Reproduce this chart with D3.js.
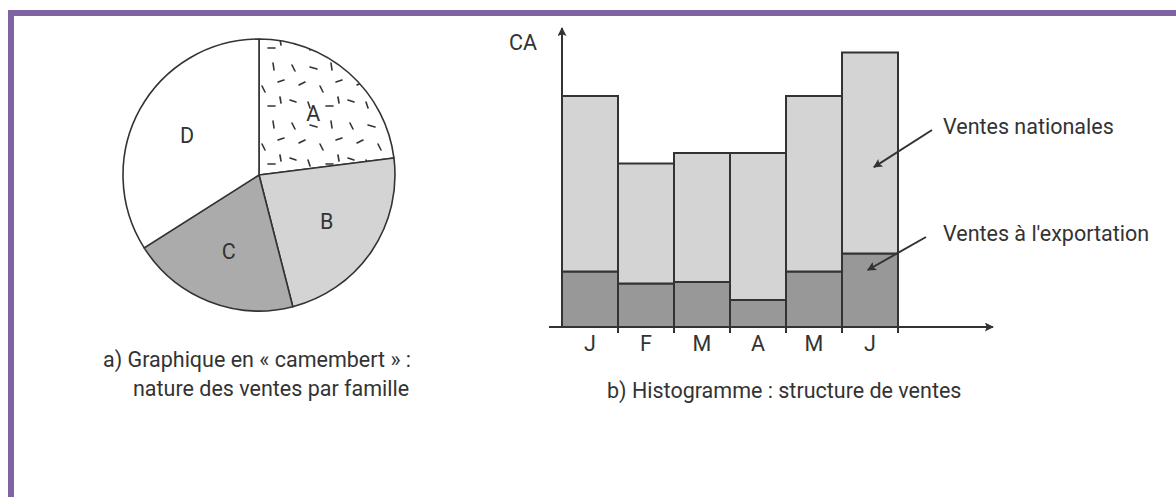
<!DOCTYPE html>
<html>
<head>
<meta charset="utf-8">
<script src="https://cdn.jsdelivr.net/npm/d3@7"></script>
<style>
  body { margin: 0; background: #fff; }
  text { font-family: Roboto, "Noto Sans", sans-serif; fill: #333; }
</style>
</head>
<body>
<div id="chart"></div>
<script>
// pie : nature des ventes par famille (parts en %)
const families = ["A", "B", "C", "D"];
const familyShares = [23, 23, 20, 34];

// histogramme : CA par mois
const months = ["J", "F", "M", "A", "M", "J"];
const exportSales = [18.5, 14.5, 15, 9, 18.5, 24.5];
const nationalSales = [58.5, 40, 43, 49, 58.5, 67];
const seriesLabels = ["Ventes nationales", "Ventes à l'exportation"];

const W = 1176, H = 497;
const fs = "21.5px";

const svg = d3.select("#chart").append("svg")
    .attr("width", W)
    .attr("height", H);

const defs = svg.append("defs");

// arrow heads
defs.append("marker")
    .attr("id", "axisArrow")
    .attr("viewBox", "0 0 10 10")
    .attr("refX", 9).attr("refY", 5)
    .attr("markerWidth", 11).attr("markerHeight", 9)
    .attr("markerUnits", "userSpaceOnUse")
    .attr("orient", "auto")
    .append("path").attr("d", "M0,0 L10,5 L0,10 L2,5 Z").attr("fill", "#333");

defs.append("marker")
    .attr("id", "noteArrow")
    .attr("viewBox", "0 0 10 10")
    .attr("refX", 9).attr("refY", 5)
    .attr("markerWidth", 12).attr("markerHeight", 9)
    .attr("markerUnits", "userSpaceOnUse")
    .attr("orient", "auto")
    .append("path").attr("d", "M0,0 L10,5 L0,10 L2,5 Z").attr("fill", "#333");

// dashes for slice A
const pat = defs.append("pattern")
    .attr("id", "dashes")
    .attr("patternUnits", "userSpaceOnUse")
    .attr("x", 259).attr("y", 175)
    .attr("width", 58).attr("height", 58);
const dashLines = [
    [6, 5, 9, 11], [24, 7, 31, 9], [45, 3, 46, 10], [13, 25, 19, 22],
    [34, 26, 37, 32], [50, 22, 56, 20], [4, 40, 10, 42], [22, 42, 24, 48],
    [40, 46, 47, 46], [52, 37, 53, 43]
];
pat.selectAll("line").data(dashLines).enter().append("line")
    .attr("x1", d => d[0]).attr("y1", d => d[1])
    .attr("x2", d => d[2]).attr("y2", d => d[3])
    .attr("stroke", "#333").attr("stroke-width", 1.6)
    .attr("stroke-linecap", "round");

// purple frame
svg.append("rect").attr("x", 8).attr("y", 10).attr("width", W - 8).attr("height", 6).attr("fill", "#8064a2");
svg.append("rect").attr("x", 8).attr("y", 10).attr("width", 6).attr("height", H - 10).attr("fill", "#8064a2");

// ---------- a) camembert ----------
const pieData = families.map((f, i) => ({ name: f, value: familyShares[i] }));
const pieFills = { A: "url(#dashes)", B: "#d4d4d4", C: "#ababab", D: "#ffffff" };

const pie = d3.pie().sort(null).value(d => d.value);
const radius = 136;
const arc = d3.arc().innerRadius(0).outerRadius(radius);
const labelArc = d3.arc().innerRadius(82).outerRadius(82);

const pieG = svg.append("g").attr("transform", "translate(259,175)");

pieG.selectAll("path.slice")
    .data(pie(pieData))
    .enter()
    .append("path")
    .attr("class", "slice")
    .attr("d", arc)
    .attr("fill", d => pieFills[d.data.name])
    .attr("stroke", "#333")
    .attr("stroke-width", 1.6)
    .attr("stroke-linejoin", "round");

pieG.selectAll("text.lbl")
    .data(pie(pieData))
    .enter()
    .append("text")
    .attr("class", "lbl")
    .attr("transform", d => "translate(" + labelArc.centroid(d) + ")")
    .attr("text-anchor", "middle")
    .attr("dy", "0.36em")
    .style("font-size", fs)
    .text(d => d.data.name);

svg.append("text").attr("x", 103).attr("y", 367).style("font-size", fs)
    .text("a) Graphique en « camembert » :");
svg.append("text").attr("x", 133).attr("y", 396).style("font-size", fs)
    .text("nature des ventes par famille");

// ---------- b) histogramme ----------
const barData = months.map((m, i) => ({ i: i, month: m, export: exportSales[i], national: nationalSales[i] }));

const x = d3.scaleBand()
    .domain(barData.map(d => d.i))
    .range([562, 898])
    .padding(0);

const y = d3.scaleLinear()
    .domain([0, 100])
    .range([327, 27]);

const stack = d3.stack().keys(["export", "national"]);
const layers = stack(barData);
const barFills = { export: "#989898", national: "#d4d4d4" };

svg.append("g")
    .selectAll("g")
    .data(layers)
    .enter()
    .append("g")
    .attr("fill", d => barFills[d.key])
    .selectAll("rect")
    .data(d => d)
    .enter()
    .append("rect")
    .attr("x", d => x(d.data.i))
    .attr("y", d => y(d[1]))
    .attr("width", x.bandwidth())
    .attr("height", d => y(d[0]) - y(d[1]))
    .attr("stroke", "#333")
    .attr("stroke-width", 2);

// axes with arrows
svg.append("line")
    .attr("x1", 549).attr("y1", y(0))
    .attr("x2", 993).attr("y2", y(0))
    .attr("stroke", "#333").attr("stroke-width", 2)
    .attr("marker-end", "url(#axisArrow)");

svg.append("line")
    .attr("x1", x(0)).attr("y1", y(0))
    .attr("x2", x(0)).attr("y2", 28)
    .attr("stroke", "#333").attr("stroke-width", 2)
    .attr("marker-end", "url(#axisArrow)");

// ticks at bar edges
svg.append("g")
    .selectAll("line")
    .data(barData)
    .enter()
    .append("line")
    .attr("x1", d => x(d.i) + x.bandwidth())
    .attr("x2", d => x(d.i) + x.bandwidth())
    .attr("y1", y(0))
    .attr("y2", y(0) + 6)
    .attr("stroke", "#333").attr("stroke-width", 2);

// month labels
svg.append("g")
    .attr("transform", "translate(0," + y(0) + ")")
    .call(d3.axisBottom(x).tickSize(0).tickPadding(9).tickFormat(i => months[i]))
    .call(g => g.select(".domain").remove())
    .selectAll("text")
    .style("font-size", fs)
    .style("font-family", "Roboto, 'Noto Sans', sans-serif")
    .attr("fill", "#333");

svg.append("text").attr("x", 509).attr("y", 50).style("font-size", fs).text("CA");

// annotations
const last = barData.length - 1;
const notes = [
    { label: seriesLabels[0], tx: 943, ty: 134, x1: 932, y1: 130, x2: x(last) + x.bandwidth() * 0.57, y2: y(53.3) },
    { label: seriesLabels[1], tx: 943, ty: 241, x1: 926, y1: 237, x2: x(last) + x.bandwidth() * 0.46, y2: y(19) }
];

svg.append("g")
    .selectAll("line")
    .data(notes)
    .enter()
    .append("line")
    .attr("x1", d => d.x1).attr("y1", d => d.y1)
    .attr("x2", d => d.x2).attr("y2", d => d.y2)
    .attr("stroke", "#333").attr("stroke-width", 2)
    .attr("marker-end", "url(#noteArrow)");

svg.append("g")
    .selectAll("text")
    .data(notes)
    .enter()
    .append("text")
    .attr("x", d => d.tx).attr("y", d => d.ty)
    .style("font-size", fs)
    .text(d => d.label);

svg.append("text").attr("x", 607).attr("y", 398).style("font-size", fs)
    .text("b) Histogramme : structure de ventes");
</script>
</body>
</html>
